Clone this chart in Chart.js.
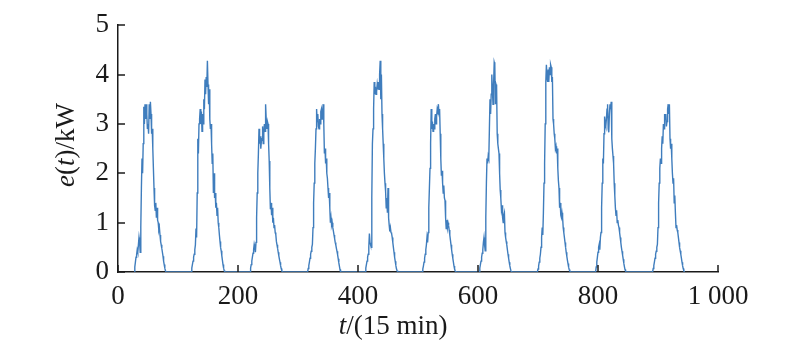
<!DOCTYPE html>
<html>
<head>
<meta charset="utf-8">
<script src="https://cdn.jsdelivr.net/npm/chart.js@4/dist/chart.umd.min.js"></script>
<style>
  html, body { margin: 0; padding: 0; background: #fff; }
  #wrap { width: 800px; height: 346px; }
</style>
</head>
<body>
<div id="wrap"><canvas id="pv" width="800" height="346"></canvas></div>
<script>
// PV output e(t), one value per 15 min step
const dayStart = [27, 122, 220, 316, 412, 507, 602, 699, 796, 891];
const day1 = [0, 0.1, 0.2, 0.3, 0.35, 0.45, 0.4, 0.55, 0.7, 0.6, 0.4, 0.9, 1.7, 2.3, 2.0, 2.6, 3.35, 3.0, 3.4, 3.1,
  3.4, 3.2, 2.9, 3.0, 2.8, 3.4, 3.1, 3.45, 3.2, 2.8, 2.9, 2.5, 2.1, 1.7, 1.35, 1.25, 1.4, 1.1, 1.3, 1.05,
  1.0, 0.85, 0.9, 0.75, 0.62, 0.55, 0.48, 0.4, 0.32, 0.22, 0.15, 0.08, 0.03, 0];
const day2 = [0, 0.08, 0.15, 0.22, 0.3, 0.36, 0.45, 0.55, 0.88, 0.7, 1.6, 2.7, 2.4, 3.0, 3.1, 3.3, 3.0, 3.25, 2.85, 3.2,
  3.0, 3.5, 3.3, 3.9, 3.6, 3.95, 3.75, 4.28, 3.8, 3.4, 3.7, 3.1, 2.9, 3.0, 2.6, 2.2, 2.4, 1.6, 2.0, 1.5,
  1.6, 1.3, 1.4, 1.15, 1.3, 1.0, 0.9, 0.75, 0.62, 0.5, 0.43, 0.33, 0.24, 0.15, 0.08, 0.03, 0];
const day3 = [0, 0.08, 0.15, 0.22, 0.3, 0.38, 0.45, 0.56, 0.5, 0.4, 0.6, 1.1, 1.6, 2.0, 2.4, 2.9, 2.6, 2.75, 2.5, 2.65,
  2.7, 2.95, 2.6, 2.8, 3.0, 2.85, 3.4, 3.1, 2.9, 3.05, 3.0, 2.6, 2.25, 1.7, 1.27, 1.4, 1.15, 1.3, 1.0, 1.1,
  0.9, 0.95, 0.8, 0.76, 0.62, 0.55, 0.48, 0.4, 0.33, 0.26, 0.2, 0.13, 0.07, 0.03, 0];
const day4 = [0, 0.07, 0.13, 0.2, 0.28, 0.36, 0.42, 0.5, 0.56, 0.9, 1.4, 1.8, 2.2, 2.5, 2.9, 3.3, 3.05, 3.2, 2.95, 2.9,
  3.1, 3.0, 3.25, 3.3, 3.1, 3.25, 3.4, 3.0, 2.4, 2.5, 2.2, 2.3, 2.0, 1.9, 1.7, 1.5, 1.6, 1.3, 1.0, 1.1,
  0.95, 1.0, 0.9, 0.83, 0.75, 0.68, 0.6, 0.55, 0.48, 0.42, 0.35, 0.27, 0.19, 0.12, 0.05, 0];
const day5 = [0, 0.08, 0.15, 0.22, 0.3, 0.36, 0.5, 0.78, 0.6, 0.55, 0.5, 1.5, 2.6, 2.9, 3.3, 3.85, 3.6, 3.75, 3.6, 3.65,
  3.8, 3.7, 3.85, 3.7, 4.0, 4.28, 3.5, 4.0, 3.2, 2.9, 2.6, 2.3, 2.0, 1.8, 1.63, 1.3, 1.5, 1.2, 1.7, 1.1,
  0.95, 0.82, 0.9, 0.8, 0.78, 0.7, 0.6, 0.5, 0.4, 0.3, 0.22, 0.14, 0.07, 0.03, 0];
const day6 = [0, 0.06, 0.12, 0.2, 0.28, 0.36, 0.45, 0.55, 0.7, 0.6, 0.8, 1.3, 1.7, 2.1, 2.6, 3.3, 2.9, 3.05, 2.85, 3.0,
  2.9, 3.1, 3.2, 3.0, 3.15, 3.3, 3.25, 3.4, 3.2, 3.3, 2.8, 2.3, 1.95, 2.05, 1.8, 1.6, 1.75, 1.5, 1.45, 1.1,
  0.88, 1.05, 0.9, 1.0, 0.94, 0.85, 0.75, 0.65, 0.55, 0.45, 0.36, 0.28, 0.2, 0.12, 0.06, 0.02, 0];
const day7 = [0, 0.08, 0.15, 0.22, 0.3, 0.38, 0.45, 0.6, 0.7, 0.55, 0.43, 1.1, 1.8, 2.3, 2.2, 2.35, 2.3, 2.9, 3.5, 3.2,
  3.6, 4.0, 3.7, 3.4, 3.8, 4.25, 4.2, 3.4, 3.8, 3.75, 2.8, 2.6, 2.5, 2.4, 2.0, 1.66, 1.5, 1.27, 1.35, 1.1,
  1.0, 1.15, 1.2, 0.8, 0.7, 0.62, 0.55, 0.45, 0.36, 0.28, 0.2, 0.13, 0.07, 0.02, 0];
const day8 = [0, 0.06, 0.12, 0.2, 0.28, 0.36, 0.5, 0.7, 0.9, 0.75, 1.2, 1.8, 2.2, 3.0, 3.85, 4.2, 3.95, 3.85, 4.1, 3.85,
  4.15, 4.0, 4.2, 4.15, 3.85, 3.95, 3.1, 3.0, 2.8, 2.7, 2.5, 2.55, 2.4, 2.5, 2.1, 1.85, 1.7, 1.3, 1.4, 1.15,
  1.1, 1.2, 1.1, 0.9, 0.8, 0.7, 0.6, 0.5, 0.4, 0.32, 0.24, 0.17, 0.1, 0.05, 0.02, 0];
const day9 = [0, 0.1, 0.2, 0.3, 0.4, 0.5, 0.56, 0.45, 0.7, 0.8, 1.3, 1.8, 2.3, 2.2, 2.8, 3.15, 3.0, 2.95, 3.1, 3.3,
  3.4, 2.9, 2.83, 3.2, 3.4, 3.3, 3.45, 2.7, 2.5, 2.35, 2.2, 1.8, 1.55, 1.3, 1.15, 1.25, 1.0, 1.05, 0.95, 0.9,
  0.8, 0.7, 0.6, 0.5, 0.42, 0.34, 0.26, 0.18, 0.11, 0.05, 0.02, 0];
const day10 = [0, 0.07, 0.13, 0.2, 0.28, 0.36, 0.42, 0.5, 0.56, 0.9, 1.4, 1.8, 2.1, 2.3, 2.2, 2.5, 2.75, 2.6, 3.0, 2.9,
  3.2, 3.1, 3.2, 2.95, 3.05, 3.3, 3.4, 3.2, 3.4, 2.7, 2.5, 2.6, 2.3, 2.0, 1.8, 1.9, 1.4, 1.55, 1.2, 0.9,
  0.95, 0.85, 0.8, 0.7, 0.6, 0.5, 0.43, 0.36, 0.28, 0.2, 0.13, 0.07, 0.03, 0];
const days = [day1, day2, day3, day4, day5, day6, day7, day8, day9, day10];

const xTicks = [0, 200, 400, 600, 800, 1000];
const yTicks = [0, 1, 2, 3, 4, 5];

const points = [];
days.forEach((vals, k) => {
  vals.forEach((v, i) => points.push({ x: dayStart[k] + i, y: v }));
});

const FONT = '"Liberation Serif", "Times New Roman", serif';
const INK = '#1a1a1a';

// draw a label made of upright and italic pieces, centred on (cx, cy)
function drawMixed(ctx, parts, cx, cy, size) {
  const fontOf = p => (p.it ? 'italic ' : '') + size + 'px ' + FONT;
  let total = 0;
  parts.forEach(p => { ctx.font = fontOf(p); total += ctx.measureText(p.s).width; });
  let x = cx - total / 2;
  ctx.textBaseline = 'middle';
  ctx.textAlign = 'left';
  parts.forEach(p => {
    ctx.font = fontOf(p);
    ctx.fillText(p.s, x, cy);
    x += ctx.measureText(p.s).width;
  });
}

const decor = {
  id: 'decor',
  afterDraw(chart) {
    const { ctx, chartArea: a, scales } = chart;
    const x = scales.x, y = scales.y;
    ctx.save();
    // inward ticks
    ctx.strokeStyle = INK;
    ctx.lineWidth = 1.5;
    x.ticks.forEach(t => {
      const px = Math.round(x.getPixelForValue(t.value));
      ctx.beginPath(); ctx.moveTo(px, a.bottom); ctx.lineTo(px, a.bottom - 7); ctx.stroke();
    });
    y.ticks.forEach(t => {
      const py = Math.round(y.getPixelForValue(t.value));
      ctx.beginPath(); ctx.moveTo(a.left, py); ctx.lineTo(a.left + 7, py); ctx.stroke();
    });
    // axis titles
    ctx.fillStyle = INK;
    drawMixed(ctx, [{ s: 't', it: true }, { s: '/(15 min)' }], 393, 327, 27);
    ctx.translate(67, 145);
    ctx.rotate(-Math.PI / 2);
    drawMixed(ctx, [{ s: 'e', it: true }, { s: '(' }, { s: 't', it: true }, { s: ')/kW' }], 0, 0, 27);
    ctx.restore();
  }
};

new Chart(document.getElementById('pv'), {
  type: 'line',
  data: {
    datasets: [{
      data: points,
      borderColor: '#3f7dbd',
      borderWidth: 1.4,
      pointRadius: 0,
      tension: 0,
      fill: false
    }]
  },
  options: {
    responsive: false,
    animation: false,
    layout: { padding: { top: 15, right: 82, left: 0, bottom: 0 } },
    plugins: { legend: { display: false }, tooltip: { enabled: false } },
    scales: {
      x: {
        type: 'linear',
        min: 0,
        max: 1000,
        afterFit: s => { s.height = 74; },
        afterBuildTicks: s => { s.ticks = xTicks.map(v => ({ value: v })); },
        grid: { display: true, drawOnChartArea: false, drawTicks: false },
        border: { color: INK, width: 1.5 },
        ticks: {
          padding: 9,
          color: INK,
          font: { family: FONT, size: 27 },
          maxRotation: 0,
          callback: v => v >= 1000 ? String(v).replace(/(\d)(\d{3})$/, '$1 $2') : String(v)
        }
      },
      y: {
        min: 0,
        max: 5,
        afterFit: s => { s.width = 118; },
        afterBuildTicks: s => { s.ticks = yTicks.map(v => ({ value: v })); },
        grid: { display: true, drawOnChartArea: false, drawTicks: false },
        border: { color: INK, width: 1.5 },
        ticks: {
          padding: 9,
          color: INK,
          font: { family: FONT, size: 27 }
        }
      }
    }
  },
  plugins: [decor]
});
</script>
</body>
</html>
